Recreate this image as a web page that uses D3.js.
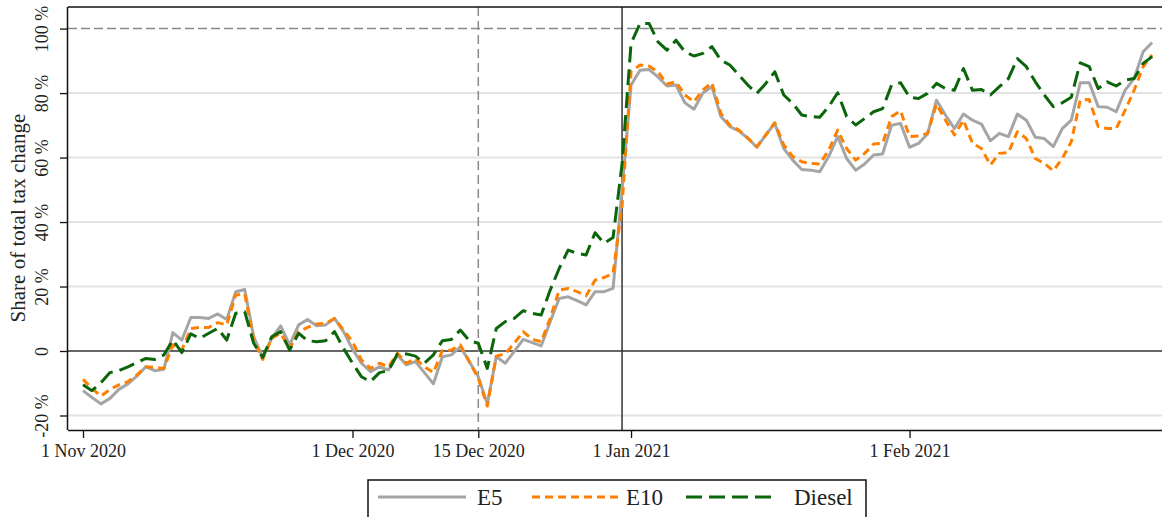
<!DOCTYPE html>
<html>
<head>
<meta charset="utf-8">
<script src="https://cdn.jsdelivr.net/npm/d3@7"></script>
<style>
  html, body { margin: 0; padding: 0; background: #fff; }
  svg { display: block; }
  text { font-family: "Liberation Serif", "DejaVu Serif", serif; fill: #222; }
</style>
</head>
<body>
<svg id="chart" width="1162" height="517"></svg>
<script>
// Daily observations, 1 Nov 2020 through 28 Feb 2021
const startDate = new Date(2020, 10, 1);
const seriesNames = ["E5", "E10", "Diesel"];

// Share of the total tax change passed through (%)
const e5 = [
  -12.3, -14.4, -16.4, -14.7, -11.9, -10.2, -7.8, -4.9, -6.1, -5.7,
  5.7, 3.4, 10.4, 10.4, 10.1, 11.5, 9.8, 18.4, 19.1, 4.4,
  -2.0, 3.9, 7.8, 1.9, 8.1, 9.8, 7.8, 8.1, 10.1, 6.0,
  0.6, -3.8, -6.4, -4.9, -5.9, -1.2, -4.3, -3.3, -6.7, -10.2,
  -1.8, -1.2, 1.3, -3.3, -8.0, -16.4, -1.8, -3.8, -0.1, 3.6,
  2.6, 1.6, 9.1, 16.3, 16.8, 15.6, 14.3, 18.4, 18.4, 19.4,
  50.0, 82.5, 87.1, 87.3, 85.0, 82.2, 82.5, 77.0, 75.0, 80.0,
  82.0, 72.7, 69.6, 68.3, 66.0, 63.2, 67.0, 70.6, 62.8, 59.2,
  56.3, 56.1, 55.6, 60.3, 66.5, 59.7, 56.1, 58.0, 60.8, 61.1,
  70.0, 70.6, 63.2, 64.4, 67.3, 77.8, 73.2, 69.0, 73.5, 71.6,
  70.4, 65.2, 67.5, 66.5, 73.5, 71.6, 66.3, 65.9, 63.4, 69.0,
  71.6, 83.2, 83.2, 75.8, 75.6, 74.2, 80.9, 84.5, 92.8, 95.7
];
const e10 = [
  -8.8, -11.6, -14.0, -11.9, -10.5, -9.5, -7.4, -4.9, -5.1, -5.4,
  1.9, 0.3, 7.0, 7.3, 7.3, 8.8, 8.1, 17.4, 17.7, 3.4,
  -2.6, 3.9, 5.5, 0.8, 6.0, 7.3, 8.4, 8.6, 10.1, 6.5,
  2.9, -2.8, -5.4, -3.8, -4.9, -0.7, -3.8, -2.3, -4.9, -6.7,
  0.1, 0.3, 1.9, -3.3, -8.5, -17.1, -1.6, -0.9, 2.4, 6.0,
  3.6, 2.9, 10.1, 18.9, 19.4, 18.4, 17.1, 22.0, 22.8, 24.1,
  45.0, 86.6, 88.7, 88.4, 86.6, 82.8, 83.5, 79.4, 77.3, 81.0,
  83.2, 73.7, 70.0, 68.5, 66.0, 63.4, 67.0, 70.8, 63.9, 60.3,
  58.7, 58.2, 58.0, 62.3, 68.5, 62.8, 59.2, 61.3, 64.2, 64.4,
  72.7, 74.5, 66.5, 66.7, 67.5, 76.6, 71.6, 67.0, 71.6, 64.4,
  62.8, 57.7, 61.3, 61.5, 68.0, 65.9, 59.7, 58.2, 55.9, 59.7,
  64.9, 77.8, 78.0, 69.6, 69.0, 69.0, 74.7, 80.9, 88.2, 91.8
];
const diesel = [
  -10.5, -12.3, -9.8, -6.7, -6.1, -4.9, -3.6, -2.3, -2.6, -1.2,
  3.4, -0.5, 5.3, 3.9, 5.5, 7.0, 3.4, 11.7, 12.2, 2.4,
  -2.0, 4.4, 6.0, 0.3, 5.5, 3.2, 2.9, 3.2, 6.0, 0.8,
  -3.8, -8.0, -9.5, -6.7, -6.1, -0.9, -0.9, -1.6, -3.8, -1.2,
  3.2, 3.6, 6.5, 3.2, 2.4, -5.4, 7.0, 9.1, 10.1, 12.5,
  11.7, 11.2, 18.9, 25.6, 31.3, 30.3, 29.8, 36.7, 33.4, 35.2,
  58.0, 95.4, 101.6, 101.6, 95.9, 93.3, 96.4, 92.8, 91.5, 92.3,
  94.4, 90.2, 88.7, 85.6, 82.5, 79.9, 83.0, 86.6, 79.4, 76.8,
  73.2, 72.7, 72.5, 75.8, 80.1, 72.7, 70.1, 72.1, 74.2, 75.2,
  82.5, 83.2, 78.7, 78.3, 79.9, 83.0, 81.4, 80.9, 87.6, 80.9,
  81.1, 79.4, 82.0, 84.5, 90.7, 88.2, 83.5, 79.4, 75.8, 77.0,
  78.7, 89.4, 88.2, 81.4, 83.5, 82.2, 84.0, 84.5, 89.2, 91.3
];

// Axis ticks
const xTickDates = [new Date(2020, 10, 1), new Date(2020, 11, 1), new Date(2020, 11, 15),
                    new Date(2021, 0, 1), new Date(2021, 1, 1)];
const xTickLabels = ["1 Nov 2020", "1 Dec 2020", "15 Dec 2020", "1 Jan 2021", "1 Feb 2021"];
const yTicks = [-20, 0, 20, 40, 60, 80, 100];
const yTickLabels = ["-20 %", "0", "20 %", "40 %", "60 %", "80 %", "100 %"];

// Reference dates: announcement (dashed) and tax change (solid)
const announceDate = new Date(2020, 11, 15);
const changeDate = new Date(2020, 11, 31);

const DAY = 24 * 3600 * 1000;
const dates = e5.map((_, i) => new Date(startDate.getTime() + i * DAY));

const svg = d3.select("#chart");
const plotL = 68, plotR = 1162, plotT = 7, plotB = 430;

const x = d3.scaleTime()
  .domain([new Date(startDate.getTime() - 1.67 * DAY), new Date(startDate.getTime() + 120.1 * DAY)])
  .range([plotL, plotR]);
const y = d3.scaleLinear().domain([-24.5, 106.7]).range([plotB, plotT]);

// Light horizontal grid
svg.append("g").selectAll("line")
  .data(yTicks.filter(v => v !== 0 && v !== 100))
  .join("line")
  .attr("x1", plotL).attr("x2", plotR)
  .attr("y1", d => y(d)).attr("y2", d => y(d))
  .attr("stroke", "#e3e3e3").attr("stroke-width", 2);

// 100 % reference line
svg.append("line")
  .attr("x1", plotL).attr("x2", plotR)
  .attr("y1", y(100)).attr("y2", y(100))
  .attr("stroke", "#8a8a8a").attr("stroke-width", 1.5)
  .attr("stroke-dasharray", "9,4");

// zero line
svg.append("line")
  .attr("x1", plotL).attr("x2", plotR)
  .attr("y1", y(0)).attr("y2", y(0))
  .attr("stroke", "#333").attr("stroke-width", 1.5);

// vertical markers
svg.append("line")
  .attr("x1", x(announceDate)).attr("x2", x(announceDate))
  .attr("y1", plotT).attr("y2", plotB)
  .attr("stroke", "#8a8a8a").attr("stroke-width", 1.5)
  .attr("stroke-dasharray", "9,5");
svg.append("line")
  .attr("x1", x(changeDate)).attr("x2", x(changeDate))
  .attr("y1", plotT).attr("y2", plotB)
  .attr("stroke", "#333").attr("stroke-width", 1.5);

// Series
const styles = [
  { values: e5, color: "#a5a5a5", dash: null, width: 3 },
  { values: e10, color: "#ff8000", dash: "8,5", width: 3 },
  { values: diesel, color: "#0b650b", dash: "16,7", width: 3 }
];
const line = d3.line().x((d, i) => x(dates[i])).y(d => y(d));
styles.forEach(s => {
  svg.append("path")
    .datum(s.values)
    .attr("d", line)
    .attr("fill", "none")
    .attr("stroke", s.color)
    .attr("stroke-width", s.width)
    .attr("stroke-linejoin", "round")
    .attr("stroke-dasharray", s.dash);
});

// Frame
svg.append("line").attr("x1", plotL).attr("x2", plotR).attr("y1", plotT).attr("y2", plotT)
  .attr("stroke", "#111").attr("stroke-width", 1.5);

// X axis
const xAxis = svg.append("g")
  .attr("transform", `translate(0,${plotB})`)
  .call(d3.axisBottom(x).tickValues(xTickDates)
    .tickFormat((d, i) => xTickLabels[i]).tickSize(8).tickPadding(6).tickSizeOuter(0));
xAxis.select(".domain").attr("stroke", "#111").attr("stroke-width", 1.5)
  .attr("d", `M${plotL},0.5H${plotR}`);
xAxis.selectAll(".tick line").attr("stroke", "#111").attr("stroke-width", 1.3);
xAxis.selectAll(".tick text").attr("font-size", 18)
  .style("font-family", "'Liberation Serif', serif").attr("fill", "#222");

// Y axis
const yAxis = svg.append("g")
  .attr("transform", `translate(${plotL},0)`)
  .call(d3.axisLeft(y).tickValues(yTicks).tickFormat((d, i) => yTickLabels[i])
    .tickSize(8).tickSizeOuter(0));
yAxis.select(".domain").attr("stroke", "#111").attr("stroke-width", 1.5)
  .attr("d", `M-0.5,${plotT}V${plotB}`);
yAxis.selectAll(".tick line").attr("stroke", "#111").attr("stroke-width", 1.3);
yAxis.selectAll(".tick text")
  .attr("font-size", 18)
  .style("font-family", "'Liberation Serif', serif")
  .attr("fill", "#222")
  .attr("x", null).attr("dy", null)
  .attr("text-anchor", "middle")
  .attr("transform", "translate(-20,0) rotate(-90)");

// Y title
svg.append("text")
  .attr("transform", `translate(25,${218}) rotate(-90)`)
  .attr("text-anchor", "middle")
  .attr("font-size", 21)
  .text("Share of total tax change");

// Legend
const lg = svg.append("g");
lg.append("rect")
  .attr("x", 368).attr("y", 480).attr("width", 498).attr("height", 60)
  .attr("fill", "#fff").attr("stroke", "#111").attr("stroke-width", 1.5);
const keyX = [378, 532, 686];
const labelX = [477, 626, 794];
seriesNames.forEach((name, i) => {
  const s = styles[i];
  lg.append("line")
    .attr("x1", keyX[i]).attr("x2", keyX[i] + 88)
    .attr("y1", 497).attr("y2", 497)
    .attr("stroke", s.color).attr("stroke-width", s.width)
    .attr("stroke-dasharray", s.dash);
  lg.append("text")
    .attr("x", labelX[i]).attr("y", 505)
    .attr("font-size", 23)
    .text(name);
});
</script>
</body>
</html>
